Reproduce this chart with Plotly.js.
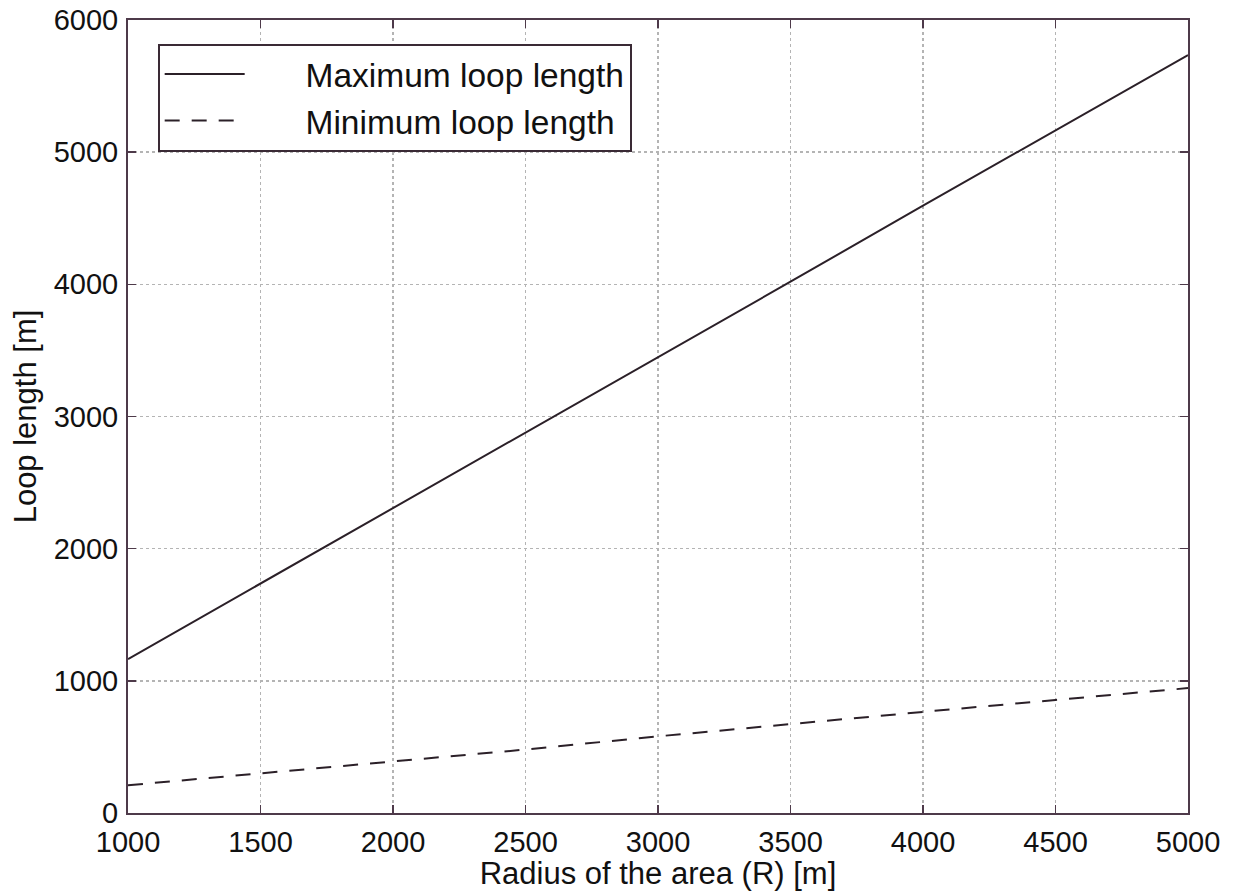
<!DOCTYPE html>
<html>
<head>
<meta charset="utf-8">
<script src="https://cdn.plot.ly/plotly-3.0.1.min.js"></script>
<style>html,body{margin:0;padding:0;background:#fff;}#chart{width:1239px;height:891px;}</style>
</head>
<body>
<div id="chart"></div>
<script>
// Radius of the area (R) [m]
const radius = [1000, 1500, 2000, 2500, 3000, 3500, 4000, 4500, 5000];
// Maximum loop length [m]
const maxLoop = [1165, 1735, 2305, 2880, 3450, 4020, 4595, 5165, 5735];
// Minimum loop length [m]
const minLoop = [210, 300, 390, 480, 580, 675, 765, 855, 945];
const seriesNames = ['Maximum loop length', 'Minimum loop length'];
const xTicks = [1000, 1500, 2000, 2500, 3000, 3500, 4000, 4500, 5000];
const yTicks = [0, 1000, 2000, 3000, 4000, 5000, 6000];

const pad = '\u00a0\u00a0\u00a0\u00a0\u00a0\u00a0';
const traces = [
  {x: radius, y: maxLoop, type: 'scatter', mode: 'lines', name: pad + seriesNames[0],
   line: {color: '#2b2028', width: 2, dash: 'solid'}},
  {x: radius, y: minLoop, type: 'scatter', mode: 'lines', name: pad + seriesNames[1],
   line: {color: '#2b2028', width: 2, dash: '15px,12px'}}
];

const axisCommon = {
  showline: true, mirror: 'ticks', linecolor: '#4e3a4a', linewidth: 2,
  ticks: 'inside', ticklen: 8, tickwidth: 1.5, tickcolor: '#4e3a4a',
  showgrid: true, gridcolor: '#b4b4b4', griddash: 'dot', gridwidth: 1.5,
  zeroline: false,
  tickfont: {family: 'Liberation Sans, Arial, sans-serif', size: 29, color: '#111'}
};

const layout = {
  width: 1239, height: 891,
  margin: {l: 128, r: 51, t: 20, b: 78},
  paper_bgcolor: '#fff', plot_bgcolor: '#fff',
  showlegend: true,
  font: {family: 'Liberation Sans, Arial, sans-serif', color: '#111'},
  xaxis: Object.assign({}, axisCommon, {
    range: [1000, 5000], tickvals: xTicks, ticktext: xTicks.map(String),
    ticklabelstandoff: 2,
    title: {text: 'Radius of the area (R) [m]', font: {size: 31, color: '#111'}, standoff: 2}
  }),
  yaxis: Object.assign({}, axisCommon, {
    range: [0, 6000], tickvals: yTicks, ticktext: yTicks.map(String),
    ticklabelstandoff: 2,
    title: {text: 'Loop length [m]', font: {size: 31, color: '#111'}, standoff: 8}
  }),
  legend: {
    x: 0.028, y: 0.97, xanchor: 'left', yanchor: 'top',
    bgcolor: '#fff', bordercolor: '#3a2a35', borderwidth: 2,
    font: {size: 33.5, color: '#111', family: 'Liberation Sans, Arial, sans-serif'},
    itemwidth: 80, tracegroupgap: 0
  }
};

Plotly.newPlot('chart', traces, layout, {displayModeBar: false, staticPlot: true});
</script>
</body>
</html>
